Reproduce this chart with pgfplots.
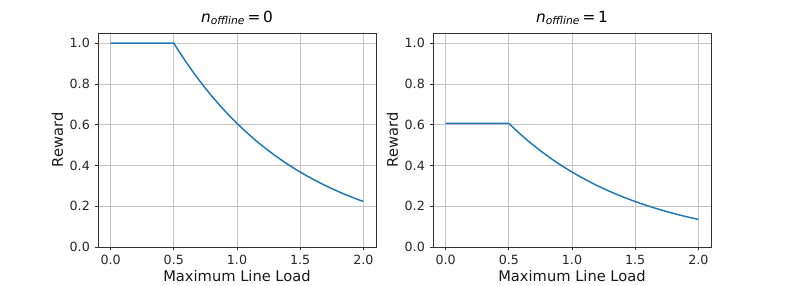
\documentclass[border=0pt]{standalone}
\usepackage{pgfplots}
\pgfplotsset{compat=1.18}
\usepackage{fontspec}
\setmainfont{DejaVu Sans}
\definecolor{c0}{HTML}{1F77B4}
\definecolor{gridc}{HTML}{C4C4C4}
\pgfplotstableread{
x y
0.00 1.0000
0.50 1.0000
0.55 0.9512
0.60 0.9048
0.65 0.8607
0.70 0.8187
0.75 0.7788
0.80 0.7408
0.85 0.7047
0.90 0.6703
0.95 0.6376
1.00 0.6065
1.05 0.5769
1.10 0.5488
1.15 0.5220
1.20 0.4966
1.25 0.4724
1.30 0.4493
1.35 0.4274
1.40 0.4066
1.45 0.3867
1.50 0.3679
1.55 0.3499
1.60 0.3329
1.65 0.3166
1.70 0.3012
1.75 0.2865
1.80 0.2725
1.85 0.2592
1.90 0.2466
1.95 0.2346
2.00 0.2231
}\dataA
\pgfplotstableread{
x y
0.00 0.6065
0.50 0.6065
0.55 0.5769
0.60 0.5488
0.65 0.5220
0.70 0.4966
0.75 0.4724
0.80 0.4493
0.85 0.4274
0.90 0.4066
0.95 0.3867
1.00 0.3679
1.05 0.3499
1.10 0.3329
1.15 0.3166
1.20 0.3012
1.25 0.2865
1.30 0.2725
1.35 0.2592
1.40 0.2466
1.45 0.2346
1.50 0.2231
1.55 0.2122
1.60 0.2019
1.65 0.1920
1.70 0.1827
1.75 0.1738
1.80 0.1653
1.85 0.1572
1.90 0.1496
1.95 0.1423
2.00 0.1353
}\dataB
\pgfplotsset{
  mystyle/.style={
    scale only axis,
    width=208.5pt, height=160.5pt,
    xmin=-0.1, xmax=2.1, ymin=0, ymax=1.05,
    xtick={0,0.5,1,1.5,2}, ytick={0,0.2,0.4,0.6,0.8,1.0},
    xticklabel style={/pgf/number format/.cd,fixed,fixed zerofill,precision=1},
    yticklabel style={/pgf/number format/.cd,fixed,fixed zerofill,precision=1},
    /pgf/number format/assume math mode=true,
    tick label style={font=\fontsize{9.5}{11}\selectfont, text=black!85},
    label style={font=\fontsize{11}{13}\selectfont, text=black!90},
    title style={font=\fontsize{11.5}{13}\selectfont, yshift=-3.5pt},
    grid=major,
    major grid style={gridc, line width=0.6pt},
    axis line style={black!80, line width=0.6pt},
    tick style={black!80, line width=0.6pt},
    tick align=outside, major tick length=2.6pt,
    xtick pos=bottom, ytick pos=left,
    xlabel={Maximum Line Load}, ylabel={Reward},
    xlabel style={yshift=3pt},
    ylabel style={yshift=-2pt},
    clip=false,
  }
}
\begin{document}
\begin{tikzpicture}
\path (0,0) rectangle (591.75pt,211.5pt);
\begin{axis}[mystyle, at={(73.5pt,26.25pt)}, anchor=south west,
  title={\textit{n}\textsubscript{\textit{offline}}\,=\,0}]
\addplot[c0, line width=1.1pt] table[x=x,y=y] {\dataA};
\end{axis}
\begin{axis}[mystyle, at={(324.75pt,26.25pt)}, anchor=south west,
  title={\textit{n}\textsubscript{\textit{offline}}\,=\,1}]
\addplot[c0, line width=1.1pt] table[x=x,y=y] {\dataB};
\end{axis}
\end{tikzpicture}
\end{document}
